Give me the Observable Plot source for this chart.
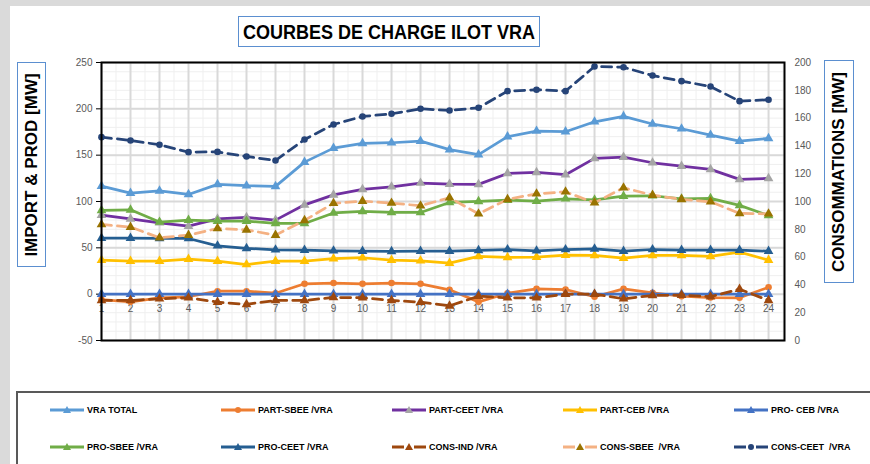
<!DOCTYPE html>
<html><head><meta charset="utf-8">
<script src="https://cdn.jsdelivr.net/npm/d3@7"></script>
<script src="https://cdn.jsdelivr.net/npm/@observablehq/plot@0.6"></script>
<style>
body{margin:0;background:#dadada;width:870px;height:464px;overflow:hidden;position:relative;font-family:"Liberation Sans",Arial,sans-serif}
#sheet{position:absolute;left:10px;top:6px;width:860px;height:458px;background:#fff}
#chart{position:absolute;left:0;top:0}
#title{position:absolute;left:238px;top:16px;width:302px;height:31px;border:1px solid #5b8fd0;box-sizing:border-box;background:#fff}
#title span{position:absolute;left:50%;top:50%;transform:translate(-50%,-50%) scaleX(0.9);white-space:nowrap;font-weight:bold;font-size:20px;color:#000}
.ytitle{position:absolute;border:1px solid #5b8fd0;box-sizing:border-box;background:#fff}
.ytitle span{position:absolute;left:50%;top:50%;transform:translate(-50%,-50%) rotate(-90deg);white-space:nowrap;font-weight:bold;font-size:17px;color:#000}
#ltitle{left:17px;top:62px;width:29px;height:205px}
#rtitle{left:824px;top:60px;width:30px;height:223px}
#legend{position:absolute;left:16px;top:391px;width:870px;height:90px;border:2px solid #595959;box-sizing:border-box;background:#fff}
.item{position:absolute;display:flex;align-items:center;font-size:9px;font-weight:bold;color:#000;white-space:nowrap}
.item svg{margin-right:2px}
</style></head><body>
<div id="sheet"></div>
<div id="chart"></div>
<div id="title"><span>COURBES DE CHARGE ILOT VRA</span></div>
<div id="ltitle" class="ytitle"><span>IMPORT &amp; PROD [MW]</span></div>
<div id="rtitle" class="ytitle"><span>CONSOMMATIONS [MW]</span></div>
<div id="legend"></div>
<script>
// ---- data ----
const hours = [1,2,3,4,5,6,7,8,9,10,11,12,13,14,15,16,17,18,19,20,21,22,23,24];
const leftTicks = [-50,0,50,100,150,200,250];
const rightTicks = [0,20,40,60,80,100,120,140,160,180,200];

const vraTotal = [116.6,109,111.5,107.6,118.5,117,116.3,142.5,157.6,162.7,163.4,165.2,156,150.5,170,176,175.3,186,191.9,183.6,178.5,171.7,165.2,168.1];
const partSbee = [-5.8,-8.3,-3.9,-2.8,3.2,3.2,1,11.2,12,11.2,12,11.2,4.7,-8.3,1,5.7,5,-2.8,5.7,1.4,-2.2,-3.6,-3.9,7.5];
const partCeet = [85.3,81.3,77,73.4,81.3,82.8,79.9,96.4,107.2,113,115.9,119.9,118.8,118.5,130.3,131.4,128.9,146.5,147.9,141.8,138.2,134.7,123.9,124.9];
const partCeb = [36.7,35.6,35.6,37.8,35.6,32,35.6,35.6,38.3,39.3,36.7,36,33.5,40.7,39.6,40,42.1,41.8,38.9,41.8,41.8,40.7,45.4,36.7];
const proCeb = [0,0,0,0,0,0,0,0,0,0,0,0,0,0,0,0,0,0,0,0,0,0,0,0];
const proSbee = [90.4,91,77.8,79.9,78.8,78.8,76.3,76.3,87.6,89.3,88.2,88.2,99,100.1,101.5,100.4,102.9,101.8,105.8,106.2,102.9,103.3,95.8,85];
const proCeet = [60.5,60.5,60.1,60.1,52.2,49.4,47.9,47.5,46.8,46.4,46.1,46.4,46.4,47.2,48.2,46.8,48.2,48.9,46.4,48.2,47.5,47.5,47.5,46.4];
const consInd = [-6.8,-6.8,-5,-3.9,-8.6,-11,-6.8,-6.8,-3.5,-3.9,-6.8,-8.6,-12.6,-2.2,-3.9,-3.9,0,0,-5,-1.4,-1,-2.8,5.4,-6.8];
const consSbee = [75.2,72.4,60.8,63.7,70.9,69.4,63.7,79.6,98.1,100.4,98.3,95.4,104,86.7,102.3,108.3,110.5,98.6,114.8,106.9,102.3,99.7,87.1,86.7];
// secondary axis (CONSOMMATIONS [MW])
const consCeet = [146.3,143.9,140.8,135.5,135.7,132.4,129.5,144.6,155.4,161.2,163.1,166.7,165.5,167.4,179.4,180.4,179.4,197.1,196.6,190.6,186.6,182.7,172.2,173.2];

// ---- series styling ----
const series = [
  {name:"VRA TOTAL", values:vraTotal, stroke:"#5B9BD5", marker:"triangle", mfill:"#5B9BD5"},
  {name:"PART-SBEE /VRA", values:partSbee, stroke:"#ED7D31", marker:"circle", mfill:"#ED7D31"},
  {name:"PART-CEET /VRA", values:partCeet, stroke:"#7030A0", marker:"triangle", mfill:"#A5A5A5"},
  {name:"PART-CEB /VRA", values:partCeb, stroke:"#FFC000", marker:"triangle", mfill:"#FFC000"},
  {name:"PRO- CEB /VRA", values:proCeb, stroke:"#4472C4", marker:"triangle", mfill:"#4472C4"},
  {name:"PRO-SBEE /VRA", values:proSbee, stroke:"#70AD47", marker:"triangle", mfill:"#70AD47"},
  {name:"PRO-CEET /VRA", values:proCeet, stroke:"#255E91", marker:"triangle", mfill:"#255E91"},
  {name:"CONS-IND /VRA", values:consInd, stroke:"#9E480E", dash:"10,6", marker:"triangle", mfill:"#9E480E"},
  {name:"CONS-SBEE  /VRA", values:consSbee, stroke:"#F4B183", dash:"10,6", marker:"triangle", mfill:"#997300"},
  {name:"CONS-CEET  /VRA", values:consCeet, stroke:"#264478", dash:"10,6", marker:"circle", mfill:"#264478", right:true}
];

// secondary axis 0..200 maps onto primary -50..250
const toLeft = v => -50 + v * 1.5;
const fromLeft = v => String(Math.round((v + 50) / 1.5));

const minorY = d3.range(-50, 251, 10);
const minorX = hours.map(h => h + 0.5);

const marks = [
  Plot.ruleY(minorY, {stroke:"#efefef", strokeWidth:1}),
  Plot.ruleX(minorX, {stroke:"#efefef", strokeWidth:1}),
  Plot.ruleY(leftTicks, {stroke:"#d9d9d9", strokeWidth:2}),
  Plot.ruleX(hours, {stroke:"#d9d9d9", strokeWidth:2}),
  Plot.axisY(leftTicks, {anchor:"left", label:null, tickSize:5, tickPadding:4, fontSize:10, color:"#595959", stroke:"#000", tickFormat:d => String(d)}),
  Plot.axisY(rightTicks.map(toLeft), {anchor:"right", label:null, tickSize:0, tickPadding:10, fontSize:10, color:"#595959", tickFormat: fromLeft}),
  Plot.text(hours, {x:d => d, y:0, dy:15, text:d => String(d), fill:"#595959", fontSize:10})
];
for (const s of series) {
  const data = s.values.map((v, i) => ({hour: hours[i], value: s.right ? toLeft(v) : v}));
  marks.push(Plot.line(data, {x:"hour", y:"value", stroke:s.stroke, strokeWidth:2.75, strokeDasharray:s.dash, strokeLinejoin:"round"}));
  marks.push(Plot.dot(data, {x:"hour", y:"value", symbol:s.marker, r:s.marker === "circle" ? 3.3 : 3.6, fill:s.mfill, stroke:"none"}));
}
marks.push(Plot.frame({stroke:"#000", strokeWidth:2}));

const chart = Plot.plot({
  width:870, height:390,
  marginLeft:101, marginRight:86, marginTop:62, marginBottom:50,
  x:{type:"linear", domain:[1, 24.55], axis:null},
  y:{domain:[-50, 250], axis:null},
  style:{background:"transparent", fontFamily:"'Liberation Sans', Arial, sans-serif"},
  marks
});
document.getElementById("chart").appendChild(chart);

// ---- legend ----
const legend = document.getElementById("legend");
const colX = [31, 202, 373, 544, 715];
const rowY = [19, 56];
series.forEach((s, i) => {
  const row = i < 5 ? 0 : 1, col = i % 5;
  const div = document.createElement("div");
  div.className = "item";
  div.style.left = colX[col] + "px";
  div.style.top = (rowY[row] - 8) + "px";
  const ns = "http://www.w3.org/2000/svg";
  const svg = document.createElementNS(ns, "svg");
  svg.setAttribute("width", 36); svg.setAttribute("height", 12);
  const ln = document.createElementNS(ns, "line");
  ln.setAttribute("x1", 1); ln.setAttribute("x2", 35); ln.setAttribute("y1", 6); ln.setAttribute("y2", 6);
  ln.setAttribute("stroke", s.stroke); ln.setAttribute("stroke-width", 3);
  if (s.dash) ln.setAttribute("stroke-dasharray", "12,10");
  svg.appendChild(ln);
  let mk;
  if (s.marker === "circle") {
    mk = document.createElementNS(ns, "circle");
    mk.setAttribute("cx", 18); mk.setAttribute("cy", 6); mk.setAttribute("r", 3);
  } else {
    mk = document.createElementNS(ns, "polygon");
    mk.setAttribute("points", "18,2 22,9 14,9");
  }
  mk.setAttribute("fill", s.mfill);
  svg.appendChild(mk);
  div.appendChild(svg);
  const t = document.createElement("span");
  t.textContent = s.name;
  t.style.whiteSpace = "pre";
  div.appendChild(t);
  legend.appendChild(div);
});
</script>
</body></html>
